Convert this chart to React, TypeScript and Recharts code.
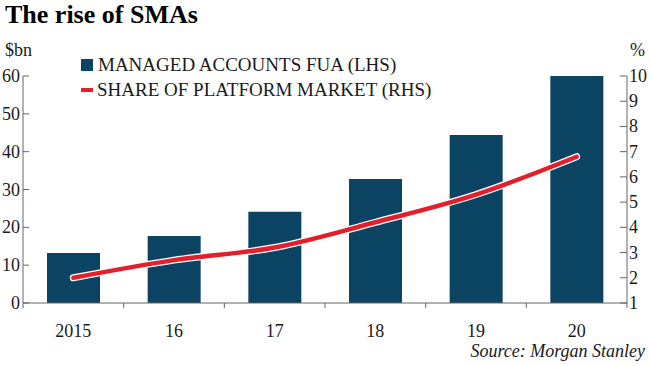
import React from "react";
import {
  ComposedChart,
  Bar,
  Line,
  XAxis,
  YAxis,
  Legend,
} from "recharts";

const years = ["2015", "16", "17", "18", "19", "20"];
const fuaValues = [13.2, 17.7, 24.1, 32.8, 44.4, 60];
const shareValues = [2.0, 2.7, 3.2, 4.2, 5.3, 6.8];
const leftTicks = [0, 10, 20, 30, 40, 50, 60];
const rightTicks = [1, 2, 3, 4, 5, 6, 7, 8, 9, 10];

const data = years.map((year, i) => ({
  year,
  fua: fuaValues[i],
  share: shareValues[i],
}));

const W = 650;
const H = 366;
const LEFT_W = 23;
const RIGHT_W = 23;
const BAND = (W - LEFT_W - RIGHT_W) / years.length;

const BAR_COLOR = "#0a4462";
const LINE_COLOR = "#e2202c";
const AXIS_COLOR = "#666";
const TEXT_COLOR = "#1a1a1a";
const FONT = "Liberation Serif, serif";

const LeftTick = (props: any) => {
  const { x, y, payload } = props;
  return (
    <g>
      <line x1={x} x2={x + 6} y1={y} y2={y} stroke={AXIS_COLOR} />
      <text x={x - 3} y={y} dy={6} textAnchor="end" fontSize={18} fontFamily={FONT} fill={TEXT_COLOR}>
        {payload.value}
      </text>
    </g>
  );
};

const RightTick = (props: any) => {
  const { x, y, payload } = props;
  return (
    <g>
      <line x1={x - 7} x2={x} y1={y} y2={y} stroke={AXIS_COLOR} />
      <text x={x + 2} y={y} dy={6} textAnchor="start" fontSize={18} fontFamily={FONT} fill={TEXT_COLOR}>
        {payload.value}
      </text>
    </g>
  );
};

const BottomTick = (props: any) => {
  const { x, y, payload, index } = props;
  return (
    <g>
      <line x1={x - BAND / 2} x2={x - BAND / 2} y1={y} y2={y + 5} stroke={AXIS_COLOR} />
      {index === years.length - 1 && (
        <line x1={x + BAND / 2} x2={x + BAND / 2} y1={y} y2={y + 5} stroke={AXIS_COLOR} />
      )}
      <text x={x} y={y} dy={34} textAnchor="middle" fontSize={18} fontFamily={FONT} fill={TEXT_COLOR}>
        {payload.value}
      </text>
    </g>
  );
};

const renderLegend = (props: any) => {
  const items = (props.payload || []).filter((p: any) => p.type !== "none");
  return (
    <div style={{ fontFamily: FONT, fontSize: 19, color: TEXT_COLOR, lineHeight: "25px" }}>
      {items.map((item: any) => (
        <div key={item.value} style={{ display: "flex", alignItems: "center", whiteSpace: "nowrap" }}>
          {item.type === "rect" ? (
            <span style={{ display: "inline-block", width: 12, height: 12, background: BAR_COLOR, marginRight: 5 }} />
          ) : (
            <span style={{ display: "inline-block", width: 12, height: 4, background: LINE_COLOR, marginRight: 4 }} />
          )}
          <span>{item.value}</span>
        </div>
      ))}
    </div>
  );
};

export default function App() {
  return (
    <div style={{ position: "absolute", left: 0, top: 0, width: W, height: H, background: "#fff" }}>
      <ComposedChart
        width={W}
        height={H}
        data={data}
        margin={{ top: 76, right: 0, bottom: 33, left: 0 }}
      >
        <XAxis
          dataKey="year"
          height={30}
          axisLine={{ stroke: AXIS_COLOR }}
          tickLine={false}
          tickSize={0}
          tickMargin={0}
          tick={<BottomTick />}
          interval={0}
        />
        <YAxis
          yAxisId="left"
          orientation="left"
          width={LEFT_W}
          domain={[0, 60]}
          ticks={leftTicks}
          axisLine={{ stroke: AXIS_COLOR }}
          tickLine={false}
          tickSize={0}
          tickMargin={0}
          tick={<LeftTick />}
          interval={0}
        />
        <YAxis
          yAxisId="right"
          orientation="right"
          width={RIGHT_W}
          domain={[1, 10]}
          ticks={rightTicks}
          axisLine={{ stroke: AXIS_COLOR }}
          tickLine={false}
          tickSize={0}
          tickMargin={0}
          tick={<RightTick />}
          interval={0}
        />
        <Legend
          layout="horizontal"
          verticalAlign="middle"
          align="center"
          content={renderLegend}
          wrapperStyle={{ top: 52, left: 81, width: "auto" }}
        />
        <Bar
          yAxisId="left"
          dataKey="fua"
          name="MANAGED ACCOUNTS FUA (LHS)"
          fill={BAR_COLOR}
          barSize={53}
          legendType="rect"
          isAnimationActive={false}
        />
        <Line
          yAxisId="right"
          type="monotone"
          dataKey="share"
          stroke="#fff"
          strokeWidth={7}
          strokeLinecap="round"
          dot={false}
          activeDot={false}
          legendType="none"
          isAnimationActive={false}
        />
        <Line
          yAxisId="right"
          type="monotone"
          dataKey="share"
          name="SHARE OF PLATFORM MARKET (RHS)"
          stroke={LINE_COLOR}
          strokeWidth={4.5}
          strokeLinecap="round"
          dot={false}
          activeDot={false}
          legendType="line"
          isAnimationActive={false}
        />
      </ComposedChart>
      <svg
        width={W}
        height={H}
        style={{ position: "absolute", left: 0, top: 0, pointerEvents: "none" }}
      >
        <text x={5} y={23} fontSize={26} fontWeight="bold" fontFamily={FONT} fill="#000">
          The rise of SMAs
        </text>
        <text x={5} y={56} fontSize={18} fontFamily={FONT} fill={TEXT_COLOR}>
          $bn
        </text>
        <text x={630} y={56} fontSize={18} fontFamily={FONT} fill={TEXT_COLOR}>
          %
        </text>
        <text x={645} y={357} textAnchor="end" fontSize={18} fontStyle="italic" fontFamily={FONT} fill={TEXT_COLOR}>
          Source: Morgan Stanley
        </text>
      </svg>
    </div>
  );
}
